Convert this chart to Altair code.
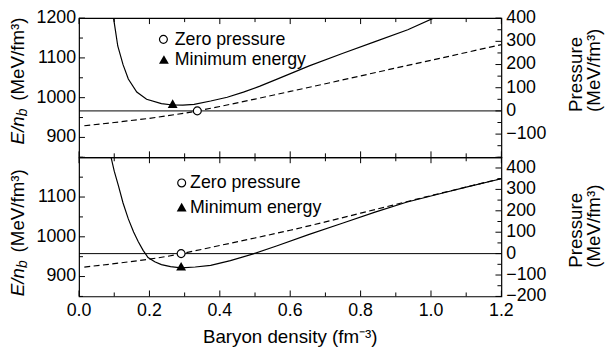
import altair as alt
import pandas as pd

FONT = "Liberation Sans"
FS = 18
TFS = 19
W, H = 428, 141

# ---------------- data ----------------
top_e_x = [0.098, 0.103, 0.110, 0.125, 0.140, 0.164, 0.192, 0.234, 0.266, 0.295, 0.327, 0.374,
           0.421, 0.467, 0.514, 0.561, 0.654, 0.748, 0.841, 0.934, 1.007]
top_e_y = [1200, 1171, 1130, 1083, 1047, 1014, 996, 985, 981.5, 981, 983, 991.5,
           1001, 1014, 1029, 1046, 1080, 1111, 1141, 1171, 1200]
top_p_x = [0.015, 0.1, 0.2, 0.3, 0.336, 0.4, 0.5, 0.6, 0.7, 0.8, 0.9, 1.0, 1.1, 1.2]
top_p_y = [-64, -50, -32, -10, 0, 19, 51, 84, 117, 151, 185, 218, 252, 286]
top_zero_x = [0.336]
top_zero_p = [0]
top_min_x = [0.266]
top_min_e = [985]

bot_e_x = [0.091, 0.100, 0.112, 0.125, 0.140, 0.155, 0.168, 0.182, 0.196, 0.215, 0.234, 0.26,
           0.29, 0.33, 0.374, 0.43, 0.495, 0.561, 0.654, 0.748, 0.841, 0.93, 1.028, 1.1, 1.2]
bot_e_y = [1200, 1165, 1128, 1085, 1045, 1012, 988, 966, 948, 937, 930, 925,
           922, 924, 928, 940, 957, 977, 1006, 1034, 1062, 1087, 1109, 1125, 1146]
bot_p_x = [0.015, 0.1, 0.2, 0.25, 0.29, 0.35, 0.4, 0.5, 0.6, 0.7, 0.8, 0.9, 1.0, 1.1, 1.2]
bot_p_y = [-63, -47, -26, -13, 0, 20, 38, 73, 109, 148, 189, 230, 271, 311, 351]
bot_zero_x = [0.29]
bot_zero_p = [0]
bot_min_x = [0.29]
bot_min_e = [926]

x_domain = [0, 1.2]
e_domain = [850, 1200]
top_p_domain = [-200, 400]
bot_p_domain = [-200, 450]

x_major = [0.0, 0.2, 0.4, 0.6, 0.8, 1.0, 1.2]
x_minor = [0.1, 0.3, 0.5, 0.7, 0.9, 1.1]
e_major = [900, 1000, 1100, 1200]
e_minor = [850, 950, 1050, 1150]
top_e_labels = [900, 1000, 1100, 1200]
bot_e_labels = [900, 1000, 1100]
top_p_major = [-200, -100, 0, 100, 200, 300, 400]
top_p_minor = [-150, -50, 50, 150, 250, 350]
bot_p_major = [-200, -100, 0, 100, 200, 300, 400]
bot_p_minor = [-150, -50, 50, 150, 250, 350, 450]
top_p_labels = [-100, 0, 100, 200, 300, 400]
bot_p_labels = [-200, -100, 0, 100, 200, 300, 400]

legend_labels = ["Zero pressure", "Minimum energy"]
x_title = "Baryon density (fm\u207b\u00b3)"
p_title = ["Pressure", "(MeV/fm\u00b3)"]
e_title = ["E/n", "b", "(MeV/fm\u00b3)"]

xs = alt.Scale(domain=x_domain, nice=False, zero=False)
ONE = pd.DataFrame({"a": [0]})


def line_layer(xv, yv, yscale, dash=None):
    df = pd.DataFrame({"x": xv, "y": yv})
    kw = dict(color="black", strokeWidth=1.2, clip=True)
    if dash:
        kw["strokeDash"] = dash
    return alt.Chart(df).mark_line(**kw).encode(
        x=alt.X("x:Q", scale=xs, axis=None),
        y=alt.Y("y:Q", scale=yscale, axis=None),
    )


def yticks(vals, yscale, x0, x1):
    return alt.Chart(pd.DataFrame({"v": vals})).mark_rule(color="black", strokeWidth=1).encode(
        y=alt.Y("v:Q", scale=yscale, axis=None), x=alt.value(x0), x2=alt.value(x1))


def xticks(vals, y0, y1):
    return alt.Chart(pd.DataFrame({"v": vals})).mark_rule(color="black", strokeWidth=1).encode(
        x=alt.X("v:Q", scale=xs, axis=None), y=alt.value(y0), y2=alt.value(y1))


def ylabels(vals, yscale, x, align):
    df = pd.DataFrame({"v": vals, "t": [str(v).replace("-", "\u2212") for v in vals]})
    return alt.Chart(df).mark_text(font=FONT, fontSize=FS, align=align, baseline="middle",
                                   color="black").encode(
        y=alt.Y("v:Q", scale=yscale, axis=None), x=alt.value(x), text="t:N")


def xlabels(vals, y):
    df = pd.DataFrame({"v": vals, "t": [f"{v:.1f}" for v in vals]})
    return alt.Chart(df).mark_text(font=FONT, fontSize=FS, align="center", baseline="middle",
                                   color="black").encode(
        x=alt.X("v:Q", scale=xs, axis=None), y=alt.value(y), text="t:N")


def txt(s, x, y, size=FS, angle=0, style=None, align="left"):
    kw = dict(text=s, font=FONT, fontSize=size, align=align, baseline="middle", color="black")
    if angle:
        kw["angle"] = angle
    if style:
        kw["fontStyle"] = style
    return alt.Chart(ONE).mark_text(**kw).encode(x=alt.value(x), y=alt.value(y))


def circle_at(x, y):
    return alt.Chart(ONE).mark_point(shape="circle", filled=True, fill="white", stroke="black",
                                     strokeWidth=1.2, size=64, opacity=1).encode(
        x=alt.value(x), y=alt.value(y))


def tri_at(x, y):
    return alt.Chart(ONE).mark_point(shape="triangle-up", filled=True, color="black",
                                     size=100, opacity=1).encode(x=alt.value(x), y=alt.value(y))


def panel(e_x, e_y, p_x, p_y, zero_x, zero_p, min_x, min_e, p_domain, e_labels, p_labels,
          p_major, p_minor, leg, e_title_y0, p_title_y0, bottom):
    es = alt.Scale(domain=e_domain, nice=False, zero=False)
    ps = alt.Scale(domain=p_domain, nice=False, zero=False)

    e_line = line_layer(e_x, e_y, es)
    tri = alt.Chart(pd.DataFrame({"x": min_x, "y": min_e})).mark_point(
        shape="triangle-up", filled=True, color="black", size=100, opacity=1).encode(
        x=alt.X("x:Q", scale=xs, axis=None), y=alt.Y("y:Q", scale=es, axis=None))

    ex0 = -62
    w1, w2, gap = 28.5, 7.8, 8
    e_layers = [
        e_line,
        tri,
        yticks(e_major, es, 0, 6),
        yticks(e_minor, es, 0, 4),
        ylabels(e_labels, es, -3, "right"),
        xticks(x_major, 0, 6),
        xticks(x_minor, 0, 4),
        xticks(x_major, H - 6, H),
        xticks(x_minor, H - 4, H),
        circle_at(leg[0], leg[1]),
        tri_at(leg[2], leg[3]),
        txt(legend_labels[0], leg[4], leg[1] + 0.5),
        txt(legend_labels[1], leg[4], leg[3] + 0.5),
        txt(e_title[0], ex0, e_title_y0, size=TFS, angle=270, style="italic"),
        txt(e_title[1], ex0 + 5, e_title_y0 - w1, size=14, angle=270, style="italic"),
        txt(e_title[2], ex0, e_title_y0 - w1 - w2 - gap, size=TFS, angle=270),
        txt(p_title[0], W + 76, p_title_y0, size=TFS, angle=270),
        txt(p_title[1], W + 94, p_title_y0, size=TFS, angle=270),
    ]
    if bottom:
        e_layers.append(xlabels(x_major, H + 14.5))
        e_layers.append(txt(x_title, W / 2, H + 41, size=TFS, align="center"))
    e_group = alt.layer(*e_layers)

    p_line = line_layer(p_x, p_y, ps, dash=[6, 3.5])
    zero_rule = alt.Chart(pd.DataFrame({"v": [0]})).mark_rule(color="black", strokeWidth=1).encode(
        y=alt.Y("v:Q", scale=ps, axis=None))
    circ = alt.Chart(pd.DataFrame({"x": zero_x, "y": zero_p})).mark_point(
        shape="circle", filled=True, fill="white", stroke="black", strokeWidth=1.2, size=64,
        opacity=1).encode(
        x=alt.X("x:Q", scale=xs, axis=None), y=alt.Y("y:Q", scale=ps, axis=None))
    p_group = alt.layer(
        zero_rule,
        p_line,
        yticks(p_major, ps, W - 6, W),
        yticks(p_minor, ps, W - 4, W),
        ylabels(p_labels, ps, W + 5, "left"),
        circ,
    )
    return alt.layer(e_group, p_group).resolve_scale(y="independent").properties(width=W, height=H)


top = panel(top_e_x, top_e_y, top_p_x, top_p_y, top_zero_x, top_zero_p, top_min_x, top_min_e,
            top_p_domain, top_e_labels, top_p_labels, top_p_major, top_p_minor,
            (85.5, 21.5, 86, 42, 97), 128, 95, False)
bot = panel(bot_e_x, bot_e_y, bot_p_x, bot_p_y, bot_zero_x, bot_zero_p, bot_min_x, bot_min_e,
            bot_p_domain, bot_e_labels, bot_p_labels, bot_p_major, bot_p_minor,
            (104, 26, 104, 50.5, 112.5), 140.7, 112, True)

chart = alt.vconcat(top, bot, spacing=0, bounds="flush").properties(
    padding={"left": 0, "top": -2, "right": 0, "bottom": 0}
).configure_view(stroke="black", strokeWidth=1.2)

chart.save("out.html", embed_options={"renderer": "svg", "actions": False})
